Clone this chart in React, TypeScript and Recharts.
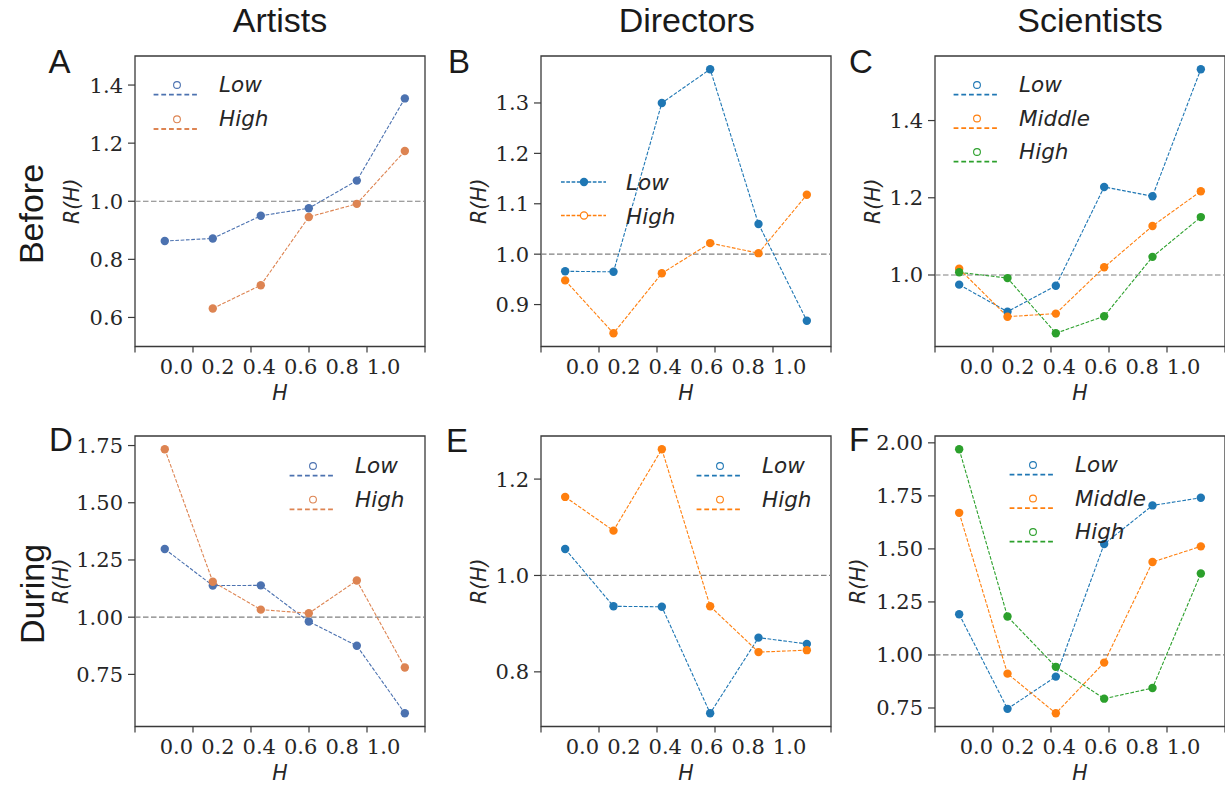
import React from 'react';
import { LineChart, Line, XAxis, YAxis, ReferenceLine, ReferenceArea, Legend } from 'recharts';

// ---------------- data ----------------
const H_INDEX = [0, 1, 2, 3, 4, 5];
const X_TICKS = [0, 0.2, 0.4, 0.6, 0.8, 1.0];

const artistsBeforeLow = [0.863, 0.872, 0.950, 0.976, 1.071, 1.354];
const artistsBeforeHigh = [null, 0.631, 0.711, 0.946, 0.991, 1.173];
const directorsBeforeLow = [0.966, 0.965, 1.300, 1.367, 1.060, 0.868];
const directorsBeforeHigh = [0.948, 0.843, 0.962, 1.022, 1.002, 1.118];
const scientistsBeforeLow = [0.975, 0.905, 0.972, 1.228, 1.204, 1.533];
const scientistsBeforeMiddle = [1.016, 0.892, 0.900, 1.020, 1.127, 1.217];
const scientistsBeforeHigh = [1.007, 0.992, 0.849, 0.893, 1.047, 1.150];
const artistsDuringLow = [1.298, 1.138, 1.139, 0.981, 0.875, 0.580];
const artistsDuringHigh = [1.734, 1.155, 1.033, 1.017, 1.160, 0.780];
const directorsDuringLow = [1.055, 0.936, 0.935, 0.714, 0.871, 0.858];
const directorsDuringHigh = [1.163, 1.093, 1.262, 0.936, 0.841, 0.845];
const scientistsDuringLow = [1.192, 0.746, 0.898, 1.523, 1.705, 1.741];
const scientistsDuringMiddle = [1.670, 0.912, 0.725, 0.964, 1.438, 1.512];
const scientistsDuringHigh = [1.970, 1.181, 0.944, 0.794, 0.844, 1.384];

const yTicksA = [0.6, 0.8, 1.0, 1.2, 1.4];
const yTicksB = [0.9, 1.0, 1.1, 1.2, 1.3];
const yTicksC = [1.0, 1.2, 1.4];
const yTicksD = [0.75, 1.0, 1.25, 1.5, 1.75];
const yTicksE = [0.8, 1.0, 1.2];
const yTicksF = [0.75, 1.0, 1.25, 1.5, 1.75, 2.0];

const columnTitles = ['Artists', 'Directors', 'Scientists'];
const rowTitles = ['Before', 'During'];
const panelLetters = ['A', 'B', 'C', 'D', 'E', 'F'];

// ---------------- styles ----------------
const SEABORN = ['#4c72b0', '#dd8452'];
const TAB = ['#1f77b4', '#ff7f0e', '#2ca02c'];
const FRAME = '#3a3a3a';
const TEXT = '#262626';
const PLOT_W = 290;
const PLOT_H = 290.5;
const M = 12;
const TICK_H = 6;
const XH = 51;

const autoDomain = (series: (number | null)[][]) => {
  const vals = series.flat().filter((v) => v != null) as number[];
  const lo = Math.min(...vals);
  const hi = Math.max(...vals);
  const m = (hi - lo) * 0.05;
  return [lo - m, hi + m];
};

type Cfg = {
  letter: string;
  plotLeft: number;
  plotTop: number;
  yW: number;
  xDomain: number[];
  yDomain: number[];
  yTicks: number[];
  yDec: number;
  names: string[];
  values: (number | null)[][];
  colors: string[];
  legend: { kind: 'above' | 'inline'; x: number; y: number; rowH: number };
};

const panels: Cfg[] = [
  {
    letter: 'A', plotLeft: 135, plotTop: 56, yW: 127, xDomain: [-0.62, 5.42], yDomain: [0.5, 1.5],
    yTicks: yTicksA, yDec: 1, names: ['Low', 'High'], values: [artistsBeforeLow, artistsBeforeHigh], colors: SEABORN,
    legend: { kind: 'above', x: 176.7, y: 84.7, rowH: 34.3 },
  },
  {
    letter: 'B', plotLeft: 541, plotTop: 56, yW: 125, xDomain: [-0.5, 5.5], yDomain: autoDomain([directorsBeforeLow, directorsBeforeHigh]),
    yTicks: yTicksB, yDec: 1, names: ['Low', 'High'], values: [directorsBeforeLow, directorsBeforeHigh], colors: TAB,
    legend: { kind: 'inline', x: 584, y: 182, rowH: 33.5 },
  },
  {
    letter: 'C', plotLeft: 935, plotTop: 56, yW: 125, xDomain: [-0.5, 5.5], yDomain: autoDomain([scientistsBeforeLow, scientistsBeforeMiddle, scientistsBeforeHigh]),
    yTicks: yTicksC, yDec: 1, names: ['Low', 'Middle', 'High'], values: [scientistsBeforeLow, scientistsBeforeMiddle, scientistsBeforeHigh], colors: TAB,
    legend: { kind: 'above', x: 976.7, y: 85, rowH: 33.5 },
  },
  {
    letter: 'D', plotLeft: 135, plotTop: 436, yW: 149, xDomain: [-0.62, 5.42], yDomain: autoDomain([artistsDuringLow, artistsDuringHigh]),
    yTicks: yTicksD, yDec: 2, names: ['Low', 'High'], values: [artistsDuringLow, artistsDuringHigh], colors: SEABORN,
    legend: { kind: 'above', x: 313.3, y: 465.7, rowH: 33.6 },
  },
  {
    letter: 'E', plotLeft: 541, plotTop: 436, yW: 125, xDomain: [-0.5, 5.5], yDomain: autoDomain([directorsDuringLow, directorsDuringHigh]),
    yTicks: yTicksE, yDec: 1, names: ['Low', 'High'], values: [directorsDuringLow, directorsDuringHigh], colors: TAB,
    legend: { kind: 'above', x: 720, y: 465.7, rowH: 33.6 },
  },
  {
    letter: 'F', plotLeft: 935, plotTop: 436, yW: 154, xDomain: [-0.5, 5.5], yDomain: autoDomain([scientistsDuringLow, scientistsDuringMiddle, scientistsDuringHigh]),
    yTicks: yTicksF, yDec: 2, names: ['Low', 'Middle', 'High'], values: [scientistsDuringLow, scientistsDuringMiddle, scientistsDuringHigh], colors: TAB,
    legend: { kind: 'above', x: 1033.3, y: 465, rowH: 33.5 },
  },
];

const legendFont = { fontFamily: 'DejaVu Sans', fontStyle: 'italic', fontSize: 21.5 };

function makeLegend(kind: 'above' | 'inline', rowH: number, order: string[]) {
  return function LegendContent(props: any) {
    const payload = [...(props.payload || [])].sort(
      (a: any, b: any) => order.indexOf(a.value) - order.indexOf(b.value)
    );
    return (
      <svg width={150} height={payload.length * rowH + 20} style={{ display: 'block', overflow: 'visible' }}>
        {payload.map((p: any, i: number) => {
          const y0 = 10 + i * rowH;
          const c = p.color;
          if (kind === 'above') {
            return (
              <g key={i}>
                <circle cx={25} cy={y0} r={3.4} fill="none" stroke={c} strokeWidth={1.1} />
                <line x1={1.6} x2={45} y1={y0 + 9.7} y2={y0 + 9.7} stroke={c} strokeWidth={1.8} strokeDasharray="4.8 2.9" />
                <text x={67} y={y0 + 7} fill={TEXT} style={legendFont}>{p.value}</text>
              </g>
            );
          }
          return (
            <g key={i}>
              <line x1={2} x2={47} y1={y0} y2={y0} stroke={c} strokeWidth={1.3} strokeDasharray="3.7 1.6" />
              <circle cx={25} cy={y0} r={i === 0 ? 4.2 : 3.6} fill={i === 0 ? c : '#fff'} stroke={c} strokeWidth={i === 0 ? 0 : 1.2} />
              <text x={67} y={y0 + 8} fill={TEXT} style={legendFont}>{p.value}</text>
            </g>
          );
        })}
      </svg>
    );
  };
}

function Panel({ cfg }: { cfg: Cfg }) {
  const keys = cfg.names.map((n) => n.toLowerCase());
  const data = H_INDEX.map((i, k) => {
    const row: any = { i };
    keys.forEach((key, s) => { row[key] = cfg.values[s][k]; });
    return row;
  });
  const chartLeft = cfg.plotLeft - cfg.yW - M;
  const chartTop = cfg.plotTop - M;
  const width = M + cfg.yW + PLOT_W + M;
  const height = M + PLOT_H + TICK_H + XH + M;
  const tickFont = { fontFamily: 'DejaVu Serif', fontSize: 21, fill: TEXT };
  const LegendContent = makeLegend(cfg.legend.kind, cfg.legend.rowH, cfg.names);
  return (
    <div style={{ position: 'absolute', left: chartLeft, top: chartTop }}>
      <LineChart width={width} height={height} data={data} margin={{ top: M, right: M, bottom: M, left: M }}>
        <XAxis xAxisId="z_data" dataKey="i" type="number" domain={cfg.xDomain} allowDataOverflow hide height={0} />
        <XAxis
          xAxisId="b_labels" dataKey="i" type="number" domain={[-0.2, 1.2]} ticks={X_TICKS} allowDataOverflow interval={0}
          height={XH} tickSize={0} tickMargin={7} axisLine={false} tickLine={false}
          tickFormatter={(v: number) => v.toFixed(1)} tick={tickFont}
          label={{ value: 'H', position: 'insideBottom', offset: 3.5, fill: TEXT, style: { fontFamily: 'DejaVu Sans', fontStyle: 'italic', fontSize: 20.5 } }}
        />
        <XAxis
          xAxisId="a_ticks" dataKey="i" type="number" domain={[0, 1]} ticks={X_TICKS} allowDataOverflow interval={0}
          height={TICK_H} tickSize={6} axisLine={false} tickFormatter={() => ''}
          tickLine={{ stroke: FRAME, strokeWidth: 1.2 }}
        />
        <YAxis
          yAxisId="y" type="number" domain={cfg.yDomain} ticks={cfg.yTicks} allowDataOverflow interval={0}
          width={cfg.yW} tickSize={7} tickMargin={5} axisLine={false}
          tickLine={{ stroke: FRAME, strokeWidth: 1.2 }}
          tickFormatter={(v: number) => v.toFixed(cfg.yDec)} tick={tickFont}
          label={{ value: 'R(H)', angle: -90, position: 'center', fill: TEXT, style: { fontFamily: 'DejaVu Sans', fontStyle: 'italic', fontSize: 20.5 } }}
        />
        <ReferenceArea
          xAxisId="z_data" yAxisId="y"
          x1={cfg.xDomain[0]} x2={cfg.xDomain[1]} y1={cfg.yDomain[0]} y2={cfg.yDomain[1]}
          fill="none" fillOpacity={0} stroke={FRAME} strokeWidth={1.3} ifOverflow="visible"
        />
        <ReferenceLine xAxisId="z_data" yAxisId="y" y={1} stroke="#808080" strokeWidth={1.2} strokeDasharray="5.5 2.5" />
        {keys.map((key, s) => (
          <Line
            key={key} xAxisId="z_data" yAxisId="y" dataKey={key} name={cfg.names[s]} type="linear"
            stroke={cfg.colors[s]} strokeWidth={1.1} strokeDasharray="3.7 1.6"
            dot={{ r: 4.2, fill: cfg.colors[s], stroke: cfg.colors[s], strokeWidth: 0, strokeDasharray: '' }}
            activeDot={false} isAnimationActive={false} connectNulls={false}
          />
        ))}
        <Legend
          layout="vertical" align="center" verticalAlign="middle"
          content={<LegendContent />}
          wrapperStyle={{ left: cfg.legend.x - 25 - chartLeft, top: cfg.legend.y - 10 - chartTop, width: 150, right: 'auto', bottom: 'auto' }}
        />
      </LineChart>
    </div>
  );
}

const titleFont = { fontFamily: 'Liberation Sans, Arial, sans-serif', fontSize: 34 };
const letterFont = { fontFamily: 'Liberation Sans, Arial, sans-serif', fontSize: 33 };
const colTitleX = [280, 686.7, 1090];
const letterPos = [[59.5, 72.7], [459, 72.7], [861, 72.7], [61, 450.7], [457, 451.5], [859, 451]];
const rowTitlePos = [[43.3, 214], [44, 594]];

export default function App() {
  return (
    <div style={{ position: 'absolute', left: 0, top: 0, width: 1225, height: 788, background: '#fff', overflow: 'hidden' }}>
      <svg width={1225} height={788} style={{ position: 'absolute', left: 0, top: 0 }}>
        {columnTitles.map((t, i) => (
          <text key={t} x={colTitleX[i]} y={32.3} textAnchor="middle" fill="#1a1a1a" style={titleFont}>{t}</text>
        ))}
        {rowTitles.map((t, i) => (
          <text key={t} x={rowTitlePos[i][0]} y={rowTitlePos[i][1]} textAnchor="middle" fill="#1a1a1a" style={titleFont}
            transform={`rotate(-90, ${rowTitlePos[i][0]}, ${rowTitlePos[i][1]})`}>{t}</text>
        ))}
        {panelLetters.map((t, i) => (
          <text key={t} x={letterPos[i][0]} y={letterPos[i][1]} textAnchor="middle" fill="#1a1a1a" style={letterFont}>{t}</text>
        ))}
      </svg>
      {panels.map((p) => <Panel key={p.letter} cfg={p} />)}
    </div>
  );
}
